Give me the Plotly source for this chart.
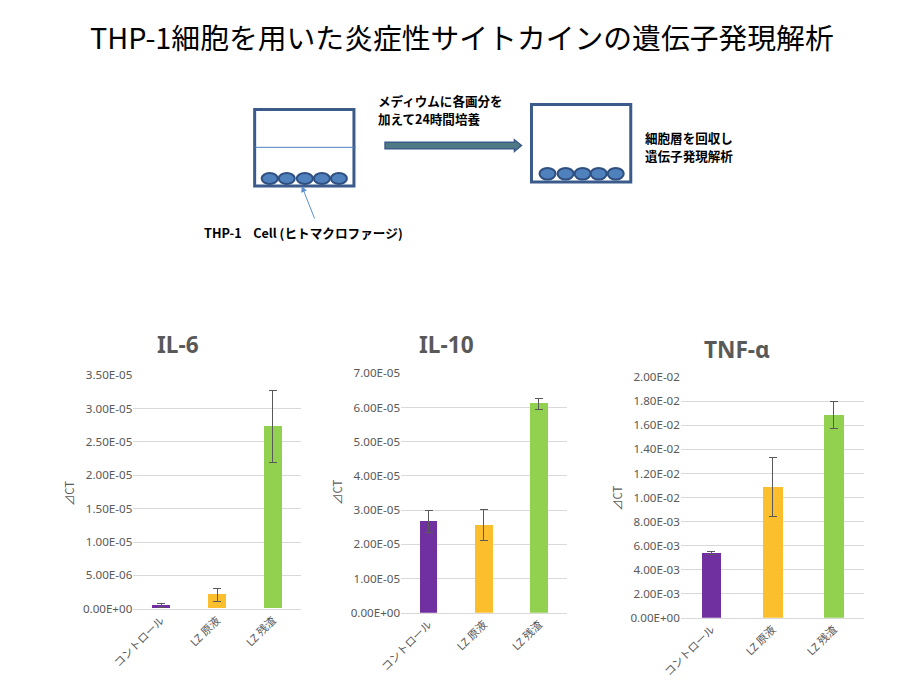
import plotly.graph_objects as go

W, H = 915, 686
# the page shows up shifted and slightly shrunk in the photo; compensate
OX, OY, S = 28, 17, 0.972

categories = ["コントロール", "LZ 原液", "LZ 残渣"]
bar_colors = ["#7030a0", "#fbbf2d", "#92d050"]

il6_mean = [4.5e-7, 2.1e-6, 2.73e-5]
il6_err = [3.0e-7, 1.0e-6, 5.4e-6]
il6_ticks = [i * 5e-6 for i in range(8)]

il10_mean = [2.68e-5, 2.56e-5, 6.11e-5]
il10_err = [3.2e-6, 4.6e-6, 1.6e-6]
il10_ticks = [i * 1e-5 for i in range(8)]

tnf_mean = [5.38e-3, 1.085e-2, 1.685e-2]
tnf_err = [1.4e-4, 2.45e-3, 1.12e-3]
tnf_ticks = [i * 2e-3 for i in range(11)]

GRAY = "#595959"
GRID = "#d9d9d9"
FONT = "Noto Sans, Noto Sans CJK JP"
JP = "Noto Sans CJK JP"


def px(x):
    return (x - OX) / S / W


def py(y):
    return 1 - (y - OY) / S / H


def fs(size):
    return size / S


fig = go.Figure()

panels = [
    ("IL-6", il6_mean, il6_err, il6_ticks, (130, 297), (606, 374), (175, 343), (66, 492)),
    ("IL-10", il10_mean, il10_err, il10_ticks, (397, 562), (610, 372), (442, 343), (333, 490)),
    ("TNF-α", tnf_mean, tnf_err, tnf_ticks, (676, 859), (615, 376), (732, 348), (612, 496)),
]

annotations = []


def label(text, x, y, size, color, family, xanchor="center", **kw):
    annotations.append(dict(
        text=text, x=px(x), y=py(y), xref="paper", yref="paper",
        xanchor=xanchor, yanchor="middle", showarrow=False, borderpad=0,
        font=dict(size=fs(size), color=color, family=family), **kw))


for i, (name, mean, err, ticks, xd, yd, tpos, ypos) in enumerate(panels, start=1):
    sfx = "" if i == 1 else str(i)
    fig.add_trace(go.Bar(
        x=categories, y=mean, width=0.32,
        marker=dict(color=bar_colors, line=dict(width=0)),
        error_y=dict(type="data", array=err, color=GRAY, thickness=1, width=4),
        xaxis="x" + sfx, yaxis="y" + sfx, showlegend=False,
    ))
    fig.layout["xaxis" + sfx] = dict(
        domain=[px(xd[0]), px(xd[1])], anchor="y" + sfx, range=[-0.5, 2.5],
        tickangle=-45, tickfont=dict(size=fs(10.6), color=GRAY, family=FONT),
        showline=True, linecolor=GRID, linewidth=1, showgrid=False, ticks="",
        fixedrange=True,
    )
    fig.layout["yaxis" + sfx] = dict(
        domain=[py(yd[0]), py(yd[1])], anchor="x" + sfx, range=[0, ticks[-1]],
        tickvals=ticks, ticktext=[format(t, ".2E") for t in ticks],
        tickfont=dict(size=fs(11.3), color=GRAY, family=FONT),
        showgrid=True, gridcolor=GRID, gridwidth=1, zeroline=False,
        showline=False, ticks="", fixedrange=True,
    )
    label("<b>" + name + "</b>", tpos[0], tpos[1], 22, GRAY, FONT)
    label("⊿CT", ypos[0], ypos[1], 11, GRAY, JP, textangle=-90)

# main title
label("THP-1細胞を用いた炎症性サイトカインの遺伝子発現解析", 458, 37, 28, "black", JP)

# diagram texts
label("<b>メディウムに各画分を</b>", 373, 101, 12.2, "black", JP, xanchor="left")
label("<b>加えて24時間培養</b>", 373, 119, 12.2, "black", JP, xanchor="left")
label("<b>細胞層を回収し</b>", 639, 138, 12.2, "black", JP, xanchor="left")
label("<b>遺伝子発現解析</b>", 639, 156, 12.2, "black", JP, xanchor="left")
label("<b>THP-1\u00a0\u00a0\u00a0 Cell (ヒトマクロファージ)</b>", 199, 232, 12.3, "black", JP,
      xanchor="left")
# pointer arrow to the cells
annotations.append(dict(
    x=px(298), y=py(186), ax=13 / S, ay=33 / S,
    xref="paper", yref="paper",
    text="", showarrow=True, arrowhead=2, arrowsize=1.2, arrowwidth=1,
    arrowcolor="#5b8fd0",
))

BOX = "#3b5b8a"
CELL_FILL = "#4f81bd"
CELL_LINE = "#2f4f80"

shapes = []


def rect_open(x0, x1, y0, y1):
    return dict(type="rect", xref="paper", yref="paper",
                x0=px(x0), x1=px(x1), y0=py(y1), y1=py(y0),
                line=dict(color=BOX, width=3), fillcolor="rgba(0,0,0,0)")


shapes.append(rect_open(251, 350, 110, 186))
shapes.append(rect_open(527, 626, 105, 182))
shapes.append(dict(type="line", xref="paper", yref="paper",
                   x0=px(251), x1=px(352), y0=py(147.5), y1=py(147.5),
                   line=dict(color=CELL_FILL, width=1)))

for cx in [266, 283, 301, 318, 335]:
    shapes.append(dict(type="circle", xref="paper", yref="paper",
                       x0=px(cx - 8), x1=px(cx + 8), y0=py(184), y1=py(173),
                       fillcolor=CELL_FILL, line=dict(color=CELL_LINE, width=2)))
for cx in [543, 561, 578, 594, 611]:
    shapes.append(dict(type="circle", xref="paper", yref="paper",
                       x0=px(cx - 8), x1=px(cx + 8), y0=py(179.5), y1=py(168),
                       fillcolor=CELL_FILL, line=dict(color=CELL_LINE, width=2)))

# big arrow
shapes.append(dict(type="path", xref="paper", yref="paper",
                   path="M {} {} L {} {} L {} {} L {} {} L {} {} L {} {} L {} {} Z".format(
                       px(381), py(142.5), px(510), py(142.5), px(510), py(140),
                       px(517), py(145.7), px(510), py(151.5), px(510), py(149),
                       px(381), py(149)),
                   fillcolor="#4e7a86", line=dict(color=BOX, width=1.5)))

fig.update_layout(
    width=W, height=H, margin=dict(l=0, r=0, t=0, b=0), autosize=False,
    paper_bgcolor="white", plot_bgcolor="white",
    annotations=annotations, shapes=shapes, bargap=0,
    font=dict(family=FONT, color=GRAY),
)

fig.write_html("out.html")
